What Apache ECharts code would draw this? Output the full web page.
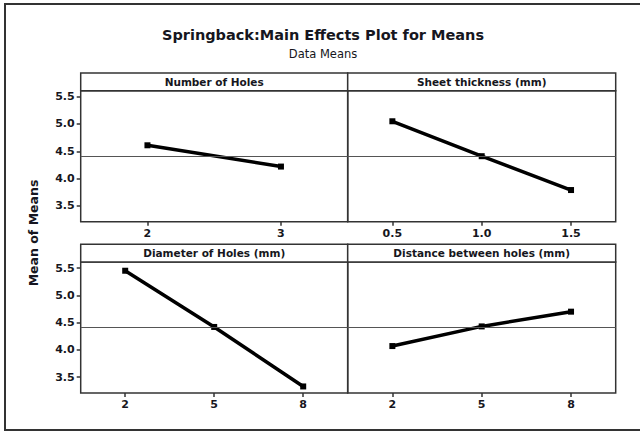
<!DOCTYPE html>
<html>
<head>
<meta charset="utf-8">
<script src="https://cdn.jsdelivr.net/npm/echarts@6/dist/echarts.min.js"></script>
<style>html,body{margin:0;padding:0;background:#fff}#c{width:640px;height:432px}</style>
</head>
<body>
<div id="c"></div>
<script>
// ---- data ----
const chartTitle = 'Springback:Main Effects Plot for Means';
const chartSubtitle = 'Data Means';
const yAxisTitle = 'Mean of Means';
const panelTitles = ['Number of Holes', 'Sheet thickness (mm)', 'Diameter of Holes (mm)', 'Distance between holes (mm)'];
const holesLevels = ['2', '3'];
const holesMeans = [4.61, 4.22];
const thicknessLevels = ['0.5', '1.0', '1.5'];
const thicknessMeans = [5.05, 4.41, 3.79];
const diameterLevels = ['2', '5', '8'];
const diameterMeans = [5.45, 4.42, 3.33];
const distanceLevels = ['2', '5', '8'];
const distanceMeans = [4.07, 4.43, 4.70];
const grandMean = 4.41;
const yTickValues = [3.5, 4.0, 4.5, 5.0, 5.5];

// ---- layout ----
const FONT = "'DejaVu Sans', sans-serif";
const TXT = '#161620';
const LINE = '#333';
const panels = [
  {levels: holesLevels, means: holesMeans, left: 80.7, top: 90.7, width: 267, showY: true},
  {levels: thicknessLevels, means: thicknessMeans, left: 347.7, top: 90.7, width: 268, showY: false},
  {levels: diameterLevels, means: diameterMeans, left: 80.7, top: 262, width: 267, showY: true},
  {levels: distanceLevels, means: distanceMeans, left: 347.7, top: 262, width: 268, showY: false}
];
const PH = 131, HEADER = 17.7;

const chart = echarts.init(document.getElementById('c'), null, {renderer: 'svg'});

const grid = [], xAxis = [], yAxis = [], series = [], graphic = [];
graphic.push({type: 'rect', shape: {x: 5, y: 4, width: 640, height: 426},
  style: {fill: 'none', stroke: LINE, lineWidth: 2}, silent: true});
graphic.push({type: 'text', x: 323, y: 35, style: {text: chartTitle, fill: TXT,
  font: 'bold 14.5px ' + FONT, textAlign: 'center', textVerticalAlign: 'middle'}});
graphic.push({type: 'text', x: 323, y: 54, style: {text: chartSubtitle, fill: TXT,
  font: '11.5px ' + FONT, textAlign: 'center', textVerticalAlign: 'middle'}});
graphic.push({type: 'text', x: 33, y: 233, rotation: Math.PI / 2, style: {text: yAxisTitle, fill: TXT,
  font: 'bold 12.5px ' + FONT, textAlign: 'center', textVerticalAlign: 'middle'}});

panels.forEach((p, i) => {
  grid.push({left: p.left, top: p.top, width: p.width, height: PH, show: true,
    borderColor: LINE, borderWidth: 1.5, backgroundColor: 'transparent', containLabel: false});
  graphic.push({type: 'rect', shape: {x: p.left, y: p.top - HEADER, width: p.width, height: HEADER},
    style: {fill: '#fff', stroke: LINE, lineWidth: 1.5}, silent: true});
  graphic.push({type: 'text', x: p.left + p.width / 2, y: p.top - HEADER / 2,
    style: {text: panelTitles[i], fill: TXT, font: 'bold 10.5px ' + FONT,
      textAlign: 'center', textVerticalAlign: 'middle'}});
  xAxis.push({type: 'category', gridIndex: i, data: p.levels, boundaryGap: true,
    axisLine: {show: false},
    axisTick: {show: true, alignWithLabel: true, length: 4, lineStyle: {color: LINE, width: 1.5}},
    axisLabel: {color: TXT, fontFamily: FONT, fontWeight: 'bold', fontSize: 11, margin: 6},
    splitLine: {show: false}});
  yAxis.push({type: 'value', gridIndex: i, min: 3.21, max: 5.61,
    axisLine: {show: false},
    axisTick: {show: p.showY, length: 4, customValues: yTickValues, lineStyle: {color: LINE, width: 1.5}},
    axisLabel: {show: p.showY, customValues: yTickValues, color: TXT, fontFamily: FONT,
      fontWeight: 'bold', fontSize: 11, margin: 6, formatter: v => v.toFixed(1)},
    splitLine: {show: false}});
  series.push({type: 'line', xAxisIndex: i, yAxisIndex: i, data: p.means,
    symbol: 'rect', symbolSize: 6, showSymbol: true,
    lineStyle: {color: '#000', width: 3.5}, itemStyle: {color: '#000'},
    animation: false, silent: true,
    markLine: {silent: true, symbol: ['none', 'none'], label: {show: false},
      lineStyle: {color: '#555', width: 1.2, type: 'solid'},
      data: [{yAxis: grandMean}], animation: false}});
});

chart.setOption({animation: false, grid, xAxis, yAxis, series, graphic});
</script>
</body>
</html>
